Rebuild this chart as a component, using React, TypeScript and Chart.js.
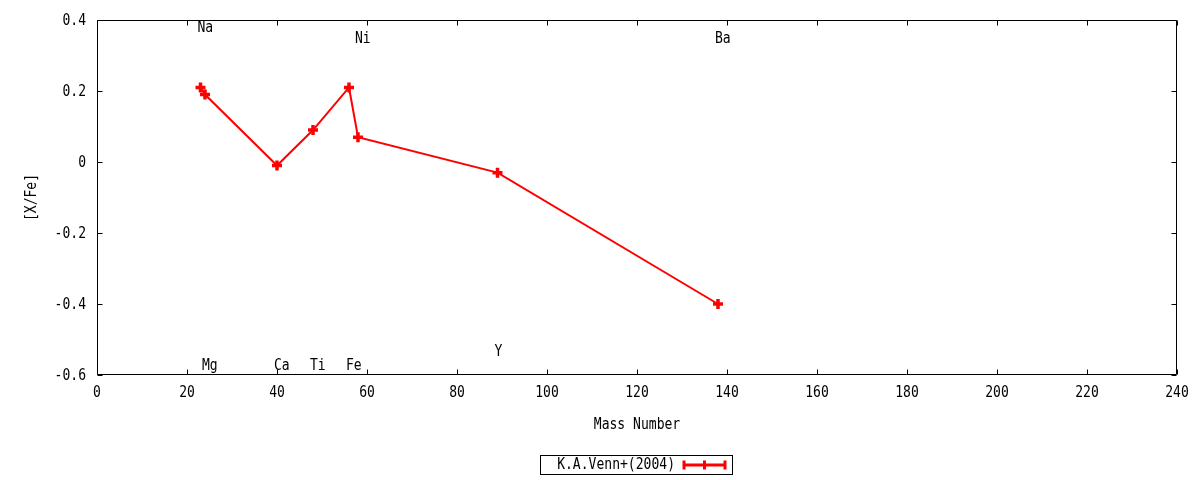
import React, { useEffect, useRef } from "react";
import { Chart, registerables } from "chart.js";

Chart.register(...registerables);

// ---- data ----
const massNumbers = [23, 24, 40, 48, 56, 58, 89, 138];
const xfeValues = [0.21, 0.19, -0.01, 0.09, 0.21, 0.07, -0.03, -0.4];
const elementNames = ["Na", "Mg", "Ca", "Ti", "Fe", "Ni", "Y", "Ba"];
const labelMass = [23, 24, 40, 48, 56, 58, 89, 138];
const labelY = [0.38, -0.57, -0.57, -0.57, -0.57, 0.35, -0.53, 0.35];
const seriesLabel = "K.A.Venn+(2004)";
const xAxisTitle = "Mass Number";
const yAxisTitle = "[X/Fe]";

const FONT_FAMILY = "'DejaVu Sans Mono', 'Liberation Mono', monospace";
const FONT_SIZE = 15;
const X_SCALE = 0.87;
const TEXT_DY = 1.5;
const RED = "#ff0000";

function fmtTick(v: number) {
  const s = (Math.round(v * 10) / 10).toFixed(1);
  if (s === "0.0" || s === "-0.0") return "0";
  return s;
}

function drawText(
  ctx: CanvasRenderingContext2D,
  text: string,
  x: number,
  y: number,
  align: CanvasTextAlign,
  rotation = 0
) {
  ctx.save();
  ctx.translate(x, y);
  if (rotation) ctx.rotate(rotation);
  ctx.scale(X_SCALE, 1);
  ctx.font = `${FONT_SIZE}px ${FONT_FAMILY}`;
  ctx.fillStyle = "#000";
  ctx.textAlign = align;
  ctx.textBaseline = "middle";
  ctx.fillText(text, 0, rotation ? 0 : TEXT_DY);
  ctx.restore();
}

const framePlugin = {
  id: "gnuplotFrame",
  afterDraw(chart: any) {
    const { ctx, chartArea } = chart;
    const xs = chart.scales.x;
    const ys = chart.scales.y;
    const l = Math.round(chartArea.left) + 0.5;
    const r = Math.round(chartArea.right) - 0.5;
    const t = Math.round(chartArea.top) + 0.5;
    const b = Math.round(chartArea.bottom) - 0.5;
    ctx.save();
    ctx.strokeStyle = "#000";
    ctx.lineWidth = 1;
    ctx.beginPath();
    ctx.rect(l, t, r - l, b - t);
    const tl = 5;
    xs.ticks.forEach((tk: any) => {
      const px = Math.round(xs.getPixelForValue(tk.value)) + 0.5;
      ctx.moveTo(px, b);
      ctx.lineTo(px, b - tl);
      ctx.moveTo(px, t);
      ctx.lineTo(px, t + tl);
    });
    ys.ticks.forEach((tk: any) => {
      const py = Math.round(ys.getPixelForValue(tk.value)) + 0.5;
      ctx.moveTo(l, py);
      ctx.lineTo(l + tl, py);
      ctx.moveTo(r, py);
      ctx.lineTo(r - tl, py);
    });
    ctx.stroke();

    // tick labels
    xs.ticks.forEach((tk: any) => {
      drawText(ctx, String(tk.value), xs.getPixelForValue(tk.value), chartArea.bottom + 17, "center");
    });
    ys.ticks.forEach((tk: any) => {
      drawText(ctx, fmtTick(tk.value), chartArea.left - 11, ys.getPixelForValue(tk.value), "right");
    });

    // axis titles
    drawText(ctx, xAxisTitle, (chartArea.left + chartArea.right) / 2, chartArea.bottom + 49, "center");
    drawText(ctx, yAxisTitle, 32, (chartArea.top + chartArea.bottom) / 2, "center", -Math.PI / 2);

    // element labels
    elementNames.forEach((name, i) => {
      const px = xs.getPixelForValue(labelMass[i]) - 3;
      const py = ys.getPixelForValue(labelY[i]);
      drawText(ctx, name, px, py, "left");
    });

    // legend (gnuplot style: text then sample, boxed)
    const boxL = 540.5, boxR = 732.5, boxT = 455.5, boxB = 474.5;
    ctx.strokeStyle = "#000";
    ctx.lineWidth = 1;
    ctx.strokeRect(boxL, boxT, boxR - boxL, boxB - boxT);
    const midY = (boxT + boxB) / 2;
    drawText(ctx, seriesLabel, 675, midY - 1, "right");
    const s0 = 684, s1 = 725;
    ctx.strokeStyle = RED;
    ctx.lineWidth = 3;
    ctx.beginPath();
    ctx.moveTo(s0, midY);
    ctx.lineTo(s1, midY);
    ctx.moveTo(s0, midY - 4.5);
    ctx.lineTo(s0, midY + 4.5);
    ctx.moveTo(s1, midY - 4.5);
    ctx.lineTo(s1, midY + 4.5);
    const sm = (s0 + s1) / 2;
    ctx.moveTo(sm, midY - 4.5);
    ctx.lineTo(sm, midY + 4.5);
    ctx.stroke();
    ctx.restore();
  },
};

export default function App() {
  const ref = useRef<HTMLCanvasElement | null>(null);

  useEffect(() => {
    document.body.style.margin = "0";
    if (!ref.current) return;
    const chart = new Chart(ref.current, {
      type: "scatter",
      data: {
        datasets: [
          {
            label: seriesLabel,
            data: massNumbers.map((m, i) => ({ x: m, y: xfeValues[i] })),
            showLine: true,
            borderColor: RED,
            backgroundColor: RED,
            borderWidth: 2,
            pointStyle: "cross",
            pointRadius: 5,
            pointBorderWidth: 3.5,
            pointBorderColor: RED,
            pointHoverRadius: 5,
          },
        ],
      },
      plugins: [framePlugin],
      options: {
        responsive: false,
        animation: false,
        events: [],
        layout: { padding: { left: 0, right: 23, top: 20, bottom: 39 } },
        plugins: {
          legend: { display: false },
          tooltip: { enabled: false },
        },
        scales: {
          x: {
            type: "linear",
            min: 0,
            max: 240,
            grid: { display: false, drawTicks: false },
            border: { display: false },
            ticks: { stepSize: 20, display: false },
            title: { display: false },
            afterFit: (s: any) => {
              s.height = 66;
            },
          },
          y: {
            type: "linear",
            min: -0.6,
            max: 0.4,
            grid: { display: false, drawTicks: false },
            border: { display: false },
            ticks: { stepSize: 0.2, display: false },
            title: { display: false },
            afterFit: (s: any) => {
              s.width = 97;
            },
          },
        },
      },
    } as any);
    return () => chart.destroy();
  }, []);

  return (
    <div style={{ width: 1200, height: 480 }}>
      <canvas ref={ref} width={1200} height={480} style={{ display: "block", width: 1200, height: 480 }} />
    </div>
  );
}
